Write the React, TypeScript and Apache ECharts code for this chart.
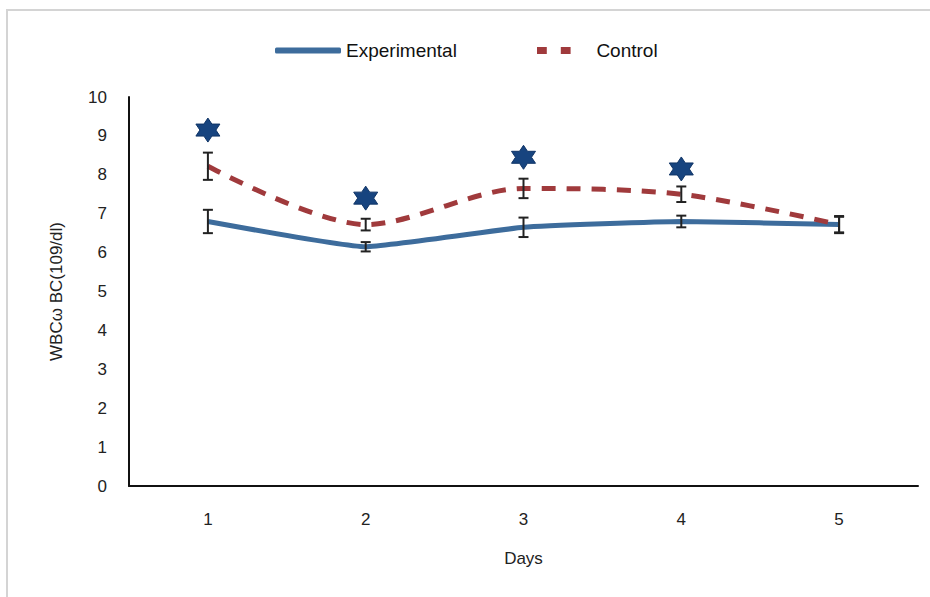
import React, { useEffect, useRef } from "react";
import * as echarts from "echarts";

const days = ["1", "2", "3", "4", "5"];
const experimental = [6.8, 6.15, 6.65, 6.8, 6.72];
const experimentalErr = [0.3, 0.12, 0.25, 0.15, 0.22];
const control = [8.22, 6.72, 7.65, 7.5, 6.72];
const controlErr = [0.35, 0.15, 0.25, 0.2, 0.2];
const significance = [9.15, 7.4, 8.45, 8.15, null];
const yTicks = { min: 0, max: 10, interval: 1 };

const FONT = "'Liberation Sans', 'DejaVu Sans', sans-serif";
const HEX =
  "path://M50,0 L64.4,25 L93.3,25 L78.9,50 L93.3,75 L64.4,75 L50,100 L35.6,75 L6.7,75 L21.1,50 L6.7,25 L35.6,25 Z";

function errData(vals: number[], errs: number[]) {
  return vals.map((v, i) => [i, v - errs[i], v + errs[i]]);
}

function errRender(params: any, api: any) {
  const x = api.value(0);
  const lo = api.coord([x, api.value(1)]);
  const hi = api.coord([x, api.value(2)]);
  const w = 5;
  const style = { stroke: "#222", lineWidth: 2, fill: "none" };
  return {
    type: "group",
    children: [
      { type: "line", shape: { x1: lo[0], y1: lo[1], x2: hi[0], y2: hi[1] }, style },
      { type: "line", shape: { x1: lo[0] - w, y1: lo[1], x2: lo[0] + w, y2: lo[1] }, style },
      { type: "line", shape: { x1: hi[0] - w, y1: hi[1], x2: hi[0] + w, y2: hi[1] }, style },
    ],
  };
}

const legendText = { fontFamily: FONT, fontSize: 19, color: "#111" };
const axisText = { fontFamily: FONT, fontSize: 17, color: "#222" };

export default function App() {
  const ref = useRef<HTMLDivElement>(null);
  useEffect(() => {
    const chart = echarts.init(ref.current!, null, { renderer: "svg" });
    chart.setOption({
      animation: false,
      backgroundColor: "#fff",
      graphic: [
        {
          type: "rect",
          shape: { x: 7, y: 10, width: 1000, height: 700 },
          style: { fill: "none", stroke: "#d4d4d4", lineWidth: 2 },
          silent: true,
        },
      ],
      legend: [
        {
          top: 36,
          left: 270,
          itemWidth: 66,
          itemHeight: 6,
          textStyle: legendText,
          data: [{ name: "Experimental", icon: "roundRect" }],
        },
        {
          top: 36,
          left: 532,
          itemWidth: 64,
          itemHeight: 7,
          textStyle: legendText,
          data: [
            {
              name: "Control",
              icon: "path://M0,0 H14 V10 H0 Z M34,0 H48 V10 H34 Z M64,5 L64,5.01 L63.99,5 Z",
            },
          ],
        },
      ],
      grid: { left: 129, right: 12, top: 97, bottom: 111 },
      xAxis: {
        type: "category",
        data: days,
        boundaryGap: true,
        axisLine: { lineStyle: { color: "#111", width: 2 } },
        axisTick: { show: false },
        axisLabel: { margin: 25, ...axisText },
        name: "Days",
        nameLocation: "middle",
        nameGap: 64,
        nameTextStyle: axisText,
      },
      yAxis: {
        type: "value",
        min: yTicks.min,
        max: yTicks.max,
        interval: yTicks.interval,
        axisLine: { show: true, lineStyle: { color: "#111", width: 2 } },
        axisTick: { show: false },
        splitLine: { show: false },
        axisLabel: { margin: 22, ...axisText },
        name: "WBCω BC(109/dl)",
        nameLocation: "middle",
        nameGap: 64,
        nameTextStyle: axisText,
      },
      series: [
        {
          name: "Experimental",
          type: "line",
          data: experimental,
          smooth: 0.12,
          symbol: "none",
          color: "#3d6c9c",
          itemStyle: { color: "#3d6c9c" },
          lineStyle: { color: "#3d6c9c", width: 5 },
          z: 3,
        },
        {
          name: "Control",
          type: "line",
          data: control,
          smooth: 0.3,
          symbol: "none",
          color: "#a03a3c",
          itemStyle: { color: "#a03a3c" },
          lineStyle: { color: "#a03a3c", width: 5, type: [14, 11] },
          z: 3,
        },
        {
          type: "custom",
          renderItem: errRender,
          data: errData(experimental, experimentalErr),
          encode: { x: 0, y: [1, 2] },
          z: 5,
        },
        {
          type: "custom",
          renderItem: errRender,
          data: errData(control, controlErr),
          encode: { x: 0, y: [1, 2] },
          z: 5,
        },
        {
          type: "scatter",
          data: significance,
          symbol: HEX,
          symbolSize: 24,
          itemStyle: { color: "#17447f", borderColor: "#0f3466", borderWidth: 1, opacity: 1 },
          z: 6,
        },
      ],
    });
    return () => chart.dispose();
  }, []);
  return (
    <div
      ref={ref}
      style={{ position: "fixed", left: 0, top: 0, width: 930, height: 597 }}
    />
  );
}
